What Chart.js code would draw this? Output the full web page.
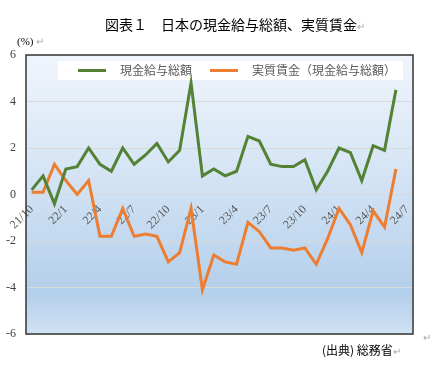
<!DOCTYPE html>
<html>
<head>
<meta charset="utf-8">
<script src="https://cdn.jsdelivr.net/npm/chart.js"></script>
<style>
  html, body { margin: 0; padding: 0; background: #fff; }
  #wrap { position: relative; width: 431px; height: 374px; overflow: hidden; }
  #wrap canvas { position: absolute; left: 0; top: 0; }
  .txt { position: absolute; white-space: nowrap; font-family: "Noto Sans CJK JP", sans-serif; color: #000; }
  .mark { color: #a6a6a6; font-size: 10px; }
</style>
</head>
<body>
<div id="wrap">
  <canvas id="chart" width="431" height="374"></canvas>
  <div class="txt" style="left:105px; top:15px; font-size:14px; line-height:18px;">図表１　日本の現金給与総額、実質賃金<span class="mark">↵</span></div>
  <div class="txt" style="left:17px; top:33px; font-size:11px; line-height:16px; font-family:'Liberation Serif', serif;">(%) <span class="mark">↵</span></div>
  <div class="txt" style="left:322px; top:342px; font-size:12px; line-height:16px;">(出典) 総務省<span class="mark">↵</span></div>
  <div class="txt mark" style="left:423px; top:330px; line-height:14px;">↵</div>
</div>

<script>
/* ---------- DATA ---------- */
const months = [
  '21/10', '21/11', '21/12',
  '22/1', '22/2', '22/3', '22/4', '22/5', '22/6', '22/7', '22/8', '22/9', '22/10', '22/11', '22/12',
  '23/1', '23/2', '23/3', '23/4', '23/5', '23/6', '23/7', '23/8', '23/9', '23/10', '23/11', '23/12',
  '24/1', '24/2', '24/3', '24/4', '24/5', '24/6', '24/7'
];

// 現金給与総額 (前年同月比, %)
const cashEarnings = [
  0.2, 0.8, -0.4,
  1.1, 1.2, 2.0, 1.3, 1.0, 2.0, 1.3, 1.7, 2.2, 1.4, 1.9, 4.8,
  0.8, 1.1, 0.8, 1.0, 2.5, 2.3, 1.3, 1.2, 1.2, 1.5, 0.2, 1.0,
  2.0, 1.8, 0.6, 2.1, 1.9, 4.5
];

// 実質賃金 (現金給与総額)
const realWages = [
  0.1, 0.1, 1.3,
  0.6, 0.0, 0.6, -1.8, -1.8, -0.6, -1.8, -1.7, -1.8, -2.9, -2.5, -0.6,
  -4.1, -2.6, -2.9, -3.0, -1.2, -1.6, -2.3, -2.3, -2.4, -2.3, -3.0, -1.9,
  -0.6, -1.3, -2.5, -0.7, -1.4, 1.1
];

const yTicks = [-6, -4, -2, 0, 2, 4, 6];

/* ---------- PLUGINS ---------- */
const plotFrame = {
  id: 'plotFrame',
  beforeDraw(chart) {
    const { ctx, chartArea: a } = chart;
    const g = ctx.createLinearGradient(0, a.top, 0, a.bottom);
    g.addColorStop(0, '#f0f5fc');
    g.addColorStop(0.45, '#d3e3f4');
    g.addColorStop(0.85, '#b3cfeb');
    g.addColorStop(1, '#d0e1f3');
    ctx.save();
    ctx.fillStyle = g;
    ctx.fillRect(a.left, a.top, a.right - a.left, a.bottom - a.top);
    ctx.restore();
  },
  afterDraw(chart) {
    const { ctx, chartArea: a } = chart;
    ctx.save();
    ctx.strokeStyle = '#404040';
    ctx.lineWidth = 1.6;
    ctx.strokeRect(a.left, a.top, a.right - a.left, a.bottom - a.top);
    ctx.restore();
  }
};

// legend box inside the plot, like the Excel one
const boxLegend = {
  id: 'boxLegend',
  beforeDatasetsDraw(chart) {
    const { ctx, chartArea: a } = chart;
    const top = a.top + 6, h = 19, midY = top + h / 2;
    ctx.save();
    ctx.fillStyle = '#ffffff';
    ctx.fillRect(a.left + 32, top, a.right - a.left - 42, h);

    ctx.font = '12px "Noto Sans CJK JP", sans-serif';
    ctx.textBaseline = 'middle';
    let x = a.left + 52;
    chart.data.datasets.forEach(ds => {
      ctx.strokeStyle = ds.borderColor;
      ctx.lineWidth = 3;
      ctx.beginPath();
      ctx.moveTo(x, midY);
      ctx.lineTo(x + 28, midY);
      ctx.stroke();
      x += 28 + 14;
      ctx.fillStyle = '#595959';
      ctx.fillText(ds.label, x, midY);
      x += ctx.measureText(ds.label).width + 18;
    });
    ctx.restore();
  }
};

/* ---------- CHART ---------- */
new Chart(document.getElementById('chart'), {
  type: 'line',
  data: {
    labels: months,
    datasets: [
      {
        label: '現金給与総額',
        data: cashEarnings,
        borderColor: '#548235',
        borderWidth: 3,
        pointRadius: 0,
        tension: 0
      },
      {
        label: '実質賃金（現金給与総額）',
        data: realWages,
        borderColor: '#ed7d31',
        borderWidth: 3,
        pointRadius: 0,
        tension: 0
      }
    ]
  },
  options: {
    responsive: false,
    animation: false,
    layout: { padding: { left: 0, top: 55, right: 18, bottom: 40 } },
    plugins: {
      legend: { display: false },
      tooltip: { enabled: false }
    },
    scales: {
      x: {
        type: 'category',
        offset: true,
        position: { y: 0 },
        grid: { display: false, drawTicks: false },
        border: { display: false },
        afterFit(scale) { scale.height = 0; },
        ticks: {
          autoSkip: false,
          minRotation: 45,
          maxRotation: 45,
          padding: 8,
          color: '#595959',
          font: { family: '"Liberation Serif", serif', size: 12 },
          callback(value, index) {
            return index % 3 === 0 ? months[index] : '';
          }
        }
      },
      y: {
        min: yTicks[0],
        max: yTicks[yTicks.length - 1],
        afterFit(scale) { scale.width = 26; },
        afterBuildTicks(scale) { scale.ticks = yTicks.map(v => ({ value: v })); },
        grid: { color: '#d9d9d9', lineWidth: 1, drawTicks: false },
        border: { display: false },
        ticks: {
          padding: 10,
          color: '#404040',
          font: { family: '"Liberation Serif", serif', size: 12 }
        }
      }
    }
  },
  plugins: [plotFrame, boxLegend]
});
</script>
</body>
</html>
